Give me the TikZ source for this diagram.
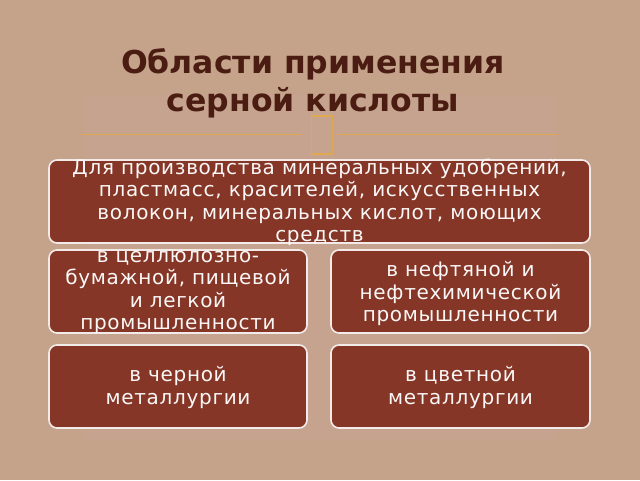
\documentclass[tikz,border=0pt]{standalone}
\usepackage{fontspec}
\setmainfont{DejaVu Sans}
\newfontfamily\spacedfont[LetterSpace=3.5]{DejaVu Sans}
\usepackage{xcolor}
\usepackage{tikz}
\usetikzlibrary{calc}

\definecolor{slidebg}{HTML}{C4A38A}
\definecolor{slidemid}{HTML}{C8A598}
\definecolor{boxfill}{HTML}{853627}
\definecolor{titlebrown}{HTML}{4A1C12}
\definecolor{goldline}{HTML}{E0A850}

\tikzset{
  box/.style={draw=white!90!boxfill, line width=1.6pt, fill=boxfill, rounded corners=8pt, inner sep=0pt},
  boxtext/.style={text=white!96!boxfill, align=center, font=\spacedfont\fontsize{20}{22.5}\selectfont, inner sep=0pt}
}

\begin{document}
\begin{tikzpicture}[x=1pt, y=-1pt]
        %FON
        \fill[slidebg] (0,0) rectangle (640,480);
        \fill[slidemid, opacity=0.4] (85,95) rectangle (555,440);
        \useasboundingbox (0,0) rectangle (640,480);

        %ZAGOLOVOK
        \node[text=titlebrown, align=center, font=\bfseries\fontsize{31.5}{38}\selectfont] (title) at (313,83) {Области применения\\серной кислоты};
        \node[draw=goldline, line width=1.4pt, minimum width=21pt, minimum height=38pt, inner sep=0pt] (glyph) at (322,135) {};
        \coordinate (lineL) at (82,134.5);
        \coordinate (lineLend) at (301,134.5);
        \coordinate (lineRstart) at (338,134.5);
        \coordinate (lineR) at (557,134.5);
        \draw[goldline, line width=0.7pt] (lineL) -- (lineLend);
        \draw[goldline, line width=0.7pt] (lineRstart) -- (lineR);

        %BLOKI
        \node[box, minimum width=541pt, minimum height=83pt] (top) at (319.5,201.5) {};
        \node[box, minimum width=258pt, minimum height=83pt] (pulp) at (178,291.5) {};
        \node[box, minimum width=259pt, minimum height=83pt] (oil) at (460.5,291.5) {};
        \node[box, minimum width=258pt, minimum height=83pt] (ferrous) at (178,386.5) {};
        \node[box, minimum width=259pt, minimum height=83pt] (nonferrous) at (460.5,386.5) {};

        %TEKST
        \node[boxtext] (toptext) at ($(top)+(0,1)$) {Для производства минеральных удобрений,\\пластмасс, красителей, искусственных\\волокон, минеральных кислот, моющих\\средств};
        \node[boxtext] (pulptext) at ($(pulp)+(0,1)$) {в целлюлозно-\\бумажной, пищевой\\и легкой\\промышленности};
        \node[boxtext] (oiltext) at ($(oil)+(0,2)$) {в нефтяной и\\нефтехимической\\промышленности};
        \node[boxtext] (ferroustext) at ($(ferrous)+(0,1)$) {в черной\\металлургии};
        \node[boxtext] (nonferroustext) at ($(nonferrous)+(0,1)$) {в цветной\\металлургии};
    \end{tikzpicture}
\end{document}
